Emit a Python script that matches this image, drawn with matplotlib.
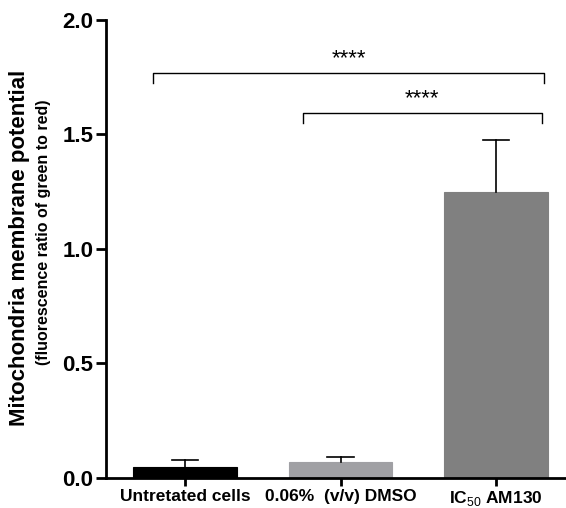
import matplotlib.pyplot as plt

plt.rcParams["font.family"] = ["Liberation Sans", "DejaVu Sans"]
plt.rcParams["mathtext.fontset"] = "custom"
plt.rcParams["mathtext.rm"] = "Liberation Sans"

groups = ["Untretated cells", "0.06%  (v/v) DMSO", r"IC$_{\mathrm{50}}$ AM130"]
means = [0.05, 0.068, 1.25]
errors = [0.028, 0.024, 0.225]
colors = ["#000000", "#a0a0a4", "#808080"]

fig = plt.figure(figsize=(5.66, 5.08), dpi=100)
ax = fig.add_axes([0.187, 0.059, 0.813, 0.902])

x = list(range(len(groups)))
ax.bar(x, means, width=0.667, color=colors, edgecolor=colors, linewidth=0.8, zorder=2)
cap = 0.085
for i in x:
    top = means[i] + errors[i]
    ax.plot([i, i], [means[i], top], color="black", lw=1.2, zorder=3)
    ax.plot([i - cap, i + cap], [top, top], color="black", lw=1.2, zorder=3)

ax.set_xlim(-0.51, 2.45)
ax.set_ylim(0, 2.0)
ax.set_yticks([0, 0.5, 1.0, 1.5, 2.0])
ax.set_yticklabels(["0.0", "0.5", "1.0", "1.5", "2.0"], fontsize=16, fontweight="bold")
ax.set_xticks(x)
ax.set_xticklabels(groups, fontsize=12.5, fontweight="bold")
ax.tick_params(axis="y", length=7, width=2, pad=2)
ax.tick_params(axis="x", length=6, width=2, pad=2)
for s in ["top", "right"]:
    ax.spines[s].set_visible(False)
ax.spines["left"].set_linewidth(2)
ax.spines["bottom"].set_linewidth(2)

# significance brackets
brackets = [(-0.205, 2.31, 1.77, 1.726), (0.756, 2.295, 1.595, 1.549)]
for x0, x1, y, ylo in brackets:
    ax.plot([x0, x0, x1, x1], [ylo, y, y, ylo], color="black", lw=1, clip_on=False)
    ax.text((x0 + x1) / 2, y + 0.015, "****", ha="center", va="bottom", fontsize=16)

fig.text(0.034, 0.512, "Mitochondria membrane potential", rotation=90,
         ha="center", va="center", fontsize=16, fontweight="bold")
fig.text(0.076, 0.543, "(fluorescence ratio of green to red)", rotation=90,
         ha="center", va="center", fontsize=11.5, fontweight="bold")

fig.savefig("out.png", dpi=100)
